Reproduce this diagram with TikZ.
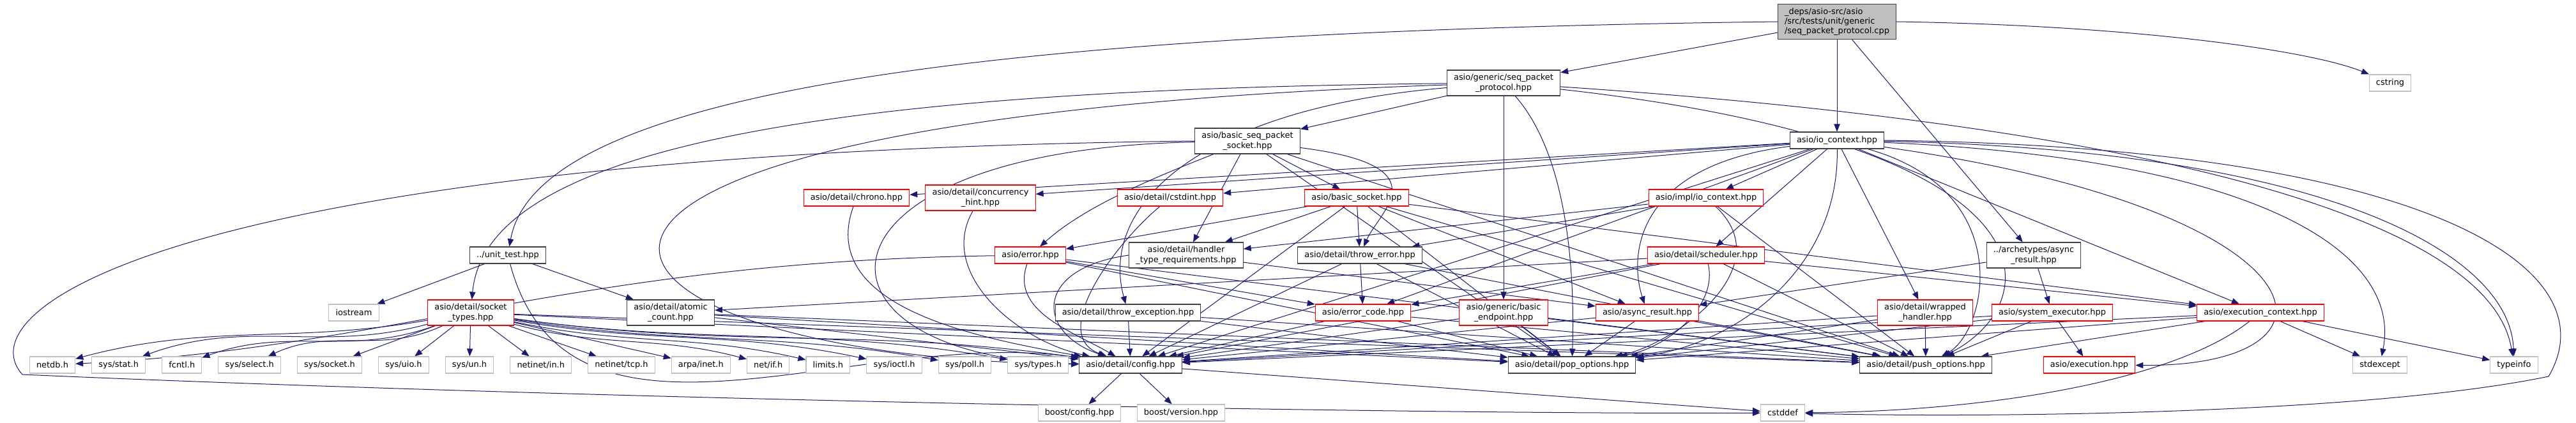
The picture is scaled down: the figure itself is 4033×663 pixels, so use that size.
\documentclass[tikz,border=0pt]{standalone}
\usepackage{fontspec}
\setmainfont{DejaVu Sans}
\usepackage{tikz}
\usetikzlibrary{arrows.meta, positioning, backgrounds}
\definecolor{edgeblue}{RGB}{25, 25, 112}
\definecolor{sysgray}{RGB}{191, 191, 191}
\definecolor{framegray}{RGB}{64, 64, 64}

\begin{document}
\begin{tikzpicture}[
        x=0.75pt, y=0.75pt,
        hfile/.style={rectangle, draw=framegray, fill=white, line width=0.8pt, align=center, inner xsep=8pt, inner ysep=4.4pt, minimum height=19.5pt, font=\fontsize{9.7}{11.5}\selectfont},
        redfile/.style={hfile, draw=red},
        sysfile/.style={hfile, draw=sysgray},
        rootfile/.style={hfile, fill=sysgray, align=left},
        inc/.style={-{Triangle[length=9pt, width=7pt]}, line width=0.75pt, draw=edgeblue}
    ]
        \useasboundingbox (0,0) rectangle (4033,-663);

        % top rows
        \node[rootfile] (rt) at (2876,-34) {\_deps/asio-src/asio\\/src/tests/unit/generic\\/seq\_packet\_protocol.cpp};
        \node[hfile] (seqproto) at (2354,-130) {asio/generic/seq\_packet\\\_protocol.hpp};
        \node[sysfile] (cstring) at (3742,-130) {cstring};
        \node[hfile] (bsps) at (1953,-221) {asio/basic\_seq\_packet\\\_socket.hpp};
        \node[hfile] (iocontext) at (2876,-220) {asio/io\_context.hpp};
        \node[redfile] (chrono) at (1341,-310) {asio/detail/chrono.hpp};
        \node[redfile] (conchint) at (1535,-310) {asio/detail/concurrency\\\_hint.hpp};
        \node[redfile] (cstdint) at (1832,-310) {asio/detail/cstdint.hpp};
        \node[redfile] (bsocket) at (2124,-310) {asio/basic\_socket.hpp};
        \node[redfile] (implioc) at (2671,-310) {asio/impl/io\_context.hpp};
        \node[hfile] (unittest) at (795,-400) {../unit\_test.hpp};
        \node[redfile] (error) at (1613,-400) {asio/error.hpp};
        \node[hfile] (htr) at (1857,-400) {asio/detail/handler\\\_type\_requirements.hpp};
        \node[hfile] (throwerr) at (2129,-400) {asio/detail/throw\_error.hpp};
        \node[redfile] (sched) at (2671,-400) {asio/detail/scheduler.hpp};
        \node[hfile] (archasync) at (3184,-400) {../archetypes/async\\\_result.hpp};

        % middle row
        \node[sysfile] (iostream) at (554,-490) {iostream};
        \node[redfile] (socktypes) at (737,-490) {asio/detail/socket\\\_types.hpp};
        \node[hfile] (atomic) at (1050,-490) {asio/detail/atomic\\\_count.hpp};
        \node[hfile] (throwexc) at (1766,-490) {asio/detail/throw\_exception.hpp};
        \node[redfile] (errcode) at (2134,-490) {asio/error\_code.hpp};
        \node[redfile] (endpoint) at (2354,-490) {asio/generic/basic\\\_endpoint.hpp};
        \node[redfile] (asyncres) at (2579,-490) {asio/async\_result.hpp};
        \node[redfile] (wrapped) at (3014,-490) {asio/detail/wrapped\\\_handler.hpp};
        \node[redfile] (sysexec) at (3213,-490) {asio/system\_executor.hpp};
        \node[redfile] (execctx) at (3539,-490) {asio/execution\_context.hpp};

        % bottom row
        \node[sysfile] (netdb) at (82,-572) {netdb.h};
        \node[sysfile, right=18.75pt of netdb] (sysstat) {sys/stat.h};
        \node[sysfile, right=18.75pt of sysstat] (fcntl) {fcntl.h};
        \node[sysfile, right=18.75pt of fcntl] (sysselect) {sys/select.h};
        \node[sysfile, right=18.75pt of sysselect] (syssocket) {sys/socket.h};
        \node[sysfile, right=18.75pt of syssocket] (sysuio) {sys/uio.h};
        \node[sysfile, right=18.75pt of sysuio] (sysun) {sys/un.h};
        \node[sysfile, right=18.75pt of sysun] (netin) {netinet/in.h};
        \node[sysfile, right=18.75pt of netin] (nettcp) {netinet/tcp.h};
        \node[sysfile, right=18.75pt of nettcp] (arpa) {arpa/inet.h};
        \node[sysfile, right=18.75pt of arpa] (netif) {net/if.h};
        \node[sysfile, right=18.75pt of netif] (limits) {limits.h};
        \node[sysfile, right=18.75pt of limits] (ioctl) {sys/ioctl.h};
        \node[sysfile, right=18.75pt of ioctl] (poll) {sys/poll.h};
        \node[sysfile, right=18.75pt of poll] (systypes) {sys/types.h};
        \node[hfile] (config) at (1770,-572) {asio/detail/config.hpp};
        \node[hfile] (pop) at (2461,-572) {asio/detail/pop\_options.hpp};
        \node[hfile] (push) at (3015,-572) {asio/detail/push\_options.hpp};
        \node[redfile] (execution) at (3271,-572) {asio/execution.hpp};
        \node[sysfile] (stdexcept) at (3726,-572) {stdexcept};
        \node[sysfile] (typeinfo) at (3936,-572) {typeinfo};
        \node[sysfile] (boostcfg) at (1690,-647) {boost/config.hpp};
        \node[sysfile] (boostver) at (1849,-647) {boost/version.hpp};
        \node[sysfile] (cstddef) at (2791,-647) {cstddef};

        \begin{scope}[on background layer]
        % root file
        \draw[inc] (rt) -- (seqproto);
        \draw[inc] (rt) -- (iocontext);
        \draw[inc] (rt) -- (archasync);
        \draw[inc] (rt.west) .. controls (1500,-50) and (840,-150) .. (unittest);
        \draw[inc] (rt.east) .. controls (3350,-40) and (3620,-80) .. (cstring);

        % asio/generic/seq_packet_protocol.hpp
        \draw[inc] (seqproto) -- (bsps);
        \draw[inc] (seqproto) -- (endpoint);
        \draw[inc] (seqproto) .. controls (2460,-250) and (2465,-450) .. (pop);
        \draw[inc] (seqproto) .. controls (3250,-230) and (3200,-480) .. (push);
        \draw[inc] (seqproto) .. controls (3400,-200) and (3900,-350) .. (typeinfo);
        \draw[inc] (seqproto) .. controls (1300,-140) and (760,-230) .. (socktypes);
        \draw[inc] (seqproto) .. controls (600,-190) and (850,-560) .. (config);
        \draw[inc] (seqproto) .. controls (1880,-170) and (1720,-320) .. (throwexc);

        % asio/basic_seq_packet_socket.hpp
        \draw[inc] (bsps) -- (bsocket);
        \draw[inc] (bsps) -- (htr);
        \draw[inc] (bsps) .. controls (1750,-300) and (1680,-340) .. (error);
        \draw[inc] (bsps) .. controls (2260,-260) and (2160,-330) .. (throwerr);
        \draw[inc] (bsps) -- (push);
        \draw[inc] (bsps) -- (pop);
        \draw[inc] (bsps) .. controls (1240,-235) and (1240,-560) .. (config);
        \draw[inc] (bsps.west) .. controls (300,-240) and (-60,-480) .. (35,-587) .. controls (900,-625) and (2200,-650) .. (cstddef);

        % asio/io_context.hpp
        \draw[inc] (iocontext) -- (chrono);
        \draw[inc] (iocontext) -- (conchint);
        \draw[inc] (iocontext) -- (cstdint);
        \draw[inc] (iocontext) -- (implioc);
        \draw[inc] (iocontext) -- (sched);
        \draw[inc] (iocontext) -- (errcode);
        \draw[inc] (iocontext) .. controls (2560,-260) and (2550,-400) .. (asyncres);
        \draw[inc] (iocontext) .. controls (2880,-420) and (2720,-540) .. (pop);
        \draw[inc] (iocontext) -- (wrapped);
        \draw[inc] (iocontext) .. controls (3160,-300) and (3110,-520) .. (push);
        \draw[inc] (iocontext) -- (execctx);
        \draw[inc] (iocontext) .. controls (3650,-330) and (3700,-575) .. (execution);
        \draw[inc] (iocontext) .. controls (3550,-250) and (3760,-400) .. (stdexcept);
        \draw[inc] (iocontext) .. controls (3650,-235) and (3930,-400) .. (typeinfo);
        \draw[inc] (iocontext.east) .. controls (3800,-230) and (4090,-420) .. (3990,-590) .. controls (3700,-650) and (3100,-655) .. (cstddef);
        \draw[inc] (iocontext) -- (config);

        % asio/impl/io_context.hpp
        \draw[inc] (implioc) -- (throwerr);
        \draw[inc] (implioc) -- (htr);
        \draw[inc] (implioc) -- (push);
        \draw[inc] (implioc) .. controls (2790,-420) and (2620,-540) .. (pop);

        % asio/detail/scheduler.hpp
        \draw[inc] (sched) -- (errcode);
        \draw[inc] (sched) -- (atomic);
        \draw[inc] (sched) -- (execctx);
        \draw[inc] (sched) -- (push);
        \draw[inc] (sched) .. controls (2690,-480) and (2610,-545) .. (pop);
        \draw[inc] (sched) -- (config);

        % asio/basic_socket.hpp
        \draw[inc] (bsocket) -- (throwerr);
        \draw[inc] (bsocket) -- (htr);
        \draw[inc] (bsocket) -- (error);
        \draw[inc] (bsocket) -- (asyncres);
        \draw[inc] (bsocket) -- (execctx);
        \draw[inc] (bsocket) -- (config);
        \draw[inc] (bsocket) -- (pop);
        \draw[inc] (bsocket) -- (push);

        % asio/error.hpp
        \draw[inc] (error) .. controls (900,-410) and (620,-545) .. (netdb);
        \draw[inc] (error) -- (errcode);
        \draw[inc] (error) to[out=-110, in=150] (config);
        \draw[inc] (error) -- (pop);
        \draw[inc] (error) -- (push);

        % asio/detail/handler_type_requirements.hpp
        \draw[inc] (htr.west) .. controls (1620,-420) and (1620,-520) .. (config);
        \draw[inc] (htr) -- (asyncres);

        % asio/detail/throw_error.hpp
        \draw[inc] (throwerr) -- (errcode);
        \draw[inc] (throwerr) -- (config);
        \draw[inc] (throwerr) -- (pop);
        \draw[inc] (throwerr) -- (push);

        % small asio/detail headers
        \draw[inc] (chrono) to[out=-110, in=170] (config);
        \draw[inc] (conchint) to[out=-120, in=168] (config);
        \draw[inc] (cstdint) to[out=-140, in=160] (config);
        \draw[inc] (throwexc) -- (config);
        \draw[inc] (throwexc) -- (pop);
        \draw[inc] (throwexc) -- (push);
        \draw[inc] (errcode) -- (config);
        \draw[inc] (errcode) -- (pop);
        \draw[inc] (errcode) -- (push);
        \draw[inc] (endpoint) -- (config);
        \draw[inc] (endpoint) -- (pop);
        \draw[inc] (endpoint) -- (push);
        \draw[inc] (asyncres) -- (config);
        \draw[inc] (asyncres) -- (pop);
        \draw[inc] (asyncres) -- (push);
        \draw[inc] (wrapped) -- (config);
        \draw[inc] (wrapped) -- (pop);
        \draw[inc] (wrapped) -- (push);

        % ../archetypes/async_result.hpp
        \draw[inc] (archasync) -- (asyncres);
        \draw[inc] (archasync) -- (sysexec);

        % asio/system_executor.hpp
        \draw[inc] (sysexec) -- (execution);
        \draw[inc] (sysexec) -- (config);
        \draw[inc] (sysexec) -- (pop);
        \draw[inc] (sysexec) -- (push);

        % asio/execution_context.hpp
        \draw[inc] (execctx) .. controls (3400,-600) and (3100,-645) .. (cstddef);
        \draw[inc] (execctx) -- (stdexcept);
        \draw[inc] (execctx) -- (typeinfo);
        \draw[inc] (execctx) -- (config);
        \draw[inc] (execctx) -- (pop);
        \draw[inc] (execctx) -- (push);

        % ../unit_test.hpp
        \draw[inc] (unittest) -- (iostream);
        \draw[inc] (unittest) -- (atomic);
        \draw[inc] (unittest) to[out=-75, in=172] (config);

        % asio/detail/atomic_count.hpp
        \draw[inc] (atomic) -- (config);
        \draw[inc] (atomic) -- (pop);
        \draw[inc] (atomic) -- (push);

        % asio/detail/socket_types.hpp
        \draw[inc] (socktypes) to[out=190, in=15] (netdb);
        \draw[inc] (socktypes) to[out=195, in=20] (sysstat);
        \draw[inc] (socktypes) to[out=200, in=20] (fcntl);
        \draw[inc] (socktypes) to[out=205, in=25] (sysselect);
        \draw[inc] (socktypes) -- (syssocket);
        \draw[inc] (socktypes) -- (sysuio);
        \draw[inc] (socktypes) -- (sysun);
        \draw[inc] (socktypes) -- (netin);
        \draw[inc] (socktypes) -- (nettcp);
        \draw[inc] (socktypes) -- (arpa);
        \draw[inc] (socktypes) to[out=-15, in=165] (netif);
        \draw[inc] (socktypes) to[out=-12, in=167] (limits);
        \draw[inc] (socktypes) to[out=-10, in=168] (ioctl);
        \draw[inc] (socktypes) to[out=-9, in=170] (poll);
        \draw[inc] (socktypes) to[out=-8, in=170] (systypes);
        \draw[inc] (socktypes) to[out=-8, in=172] (config);
        \draw[inc] (socktypes) -- (pop);
        \draw[inc] (socktypes) -- (push);

        % asio/detail/config.hpp
        \draw[inc] (config) -- (boostcfg);
        \draw[inc] (config) -- (boostver);
        \draw[inc] (config) -- (cstddef);
        \end{scope}
    \end{tikzpicture}
\end{document}
